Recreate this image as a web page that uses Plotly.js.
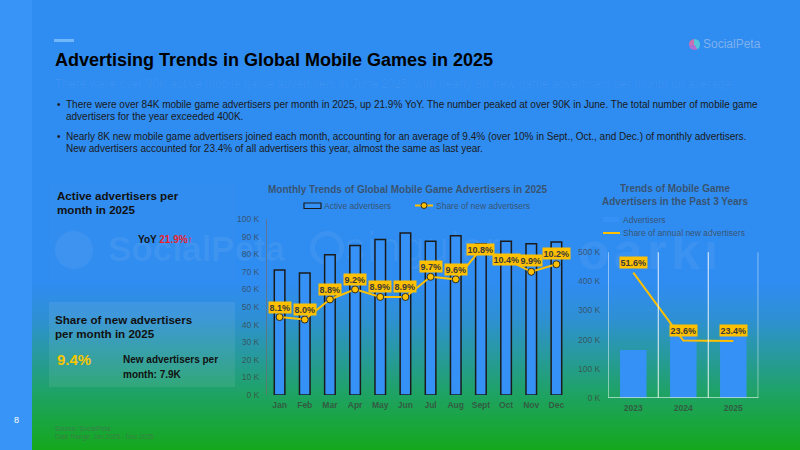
<!DOCTYPE html>
<html>
<head>
<meta charset="utf-8">
<script src="https://cdn.plot.ly/plotly-3.0.1.min.js"></script>
<style>
  html, body { margin: 0; padding: 0; }
  body { width: 800px; height: 450px; overflow: hidden; font-family: "Liberation Sans", Arial, sans-serif; }
  #slide {
    position: relative; width: 800px; height: 450px; overflow: hidden;
    background: linear-gradient(to bottom, #2f8cf0 0px, #2f8cf0 285px, #2e90d4 318px,
                #2899a2 352px, #1fa266 392px, #14a81c 450px);
  }
  #strip { position: absolute; left: 0; top: 0; width: 32px; height: 450px; background: #3894f7; }
  .t { position: absolute; white-space: nowrap; }
  .box { position: absolute; }
  .wm { position: absolute; white-space: nowrap; color: rgba(255,255,255,0.06); }
  #chart { position: absolute; left: 0; top: 0; width: 800px; height: 450px; }
</style>
</head>
<body>
<div id="slide">
  <div id="strip"></div>
  <div class="t" style="left:14px;top:414px;font-size:9px;line-height:12px;color:#fff;">8</div>

  <!-- header -->
  <div class="box" style="left:54px;top:39px;width:20px;height:3px;background:rgba(140,200,255,0.7);"></div>
  <div class="t" style="left:55px;top:49px;font-size:18px;line-height:22px;font-weight:bold;color:#000;">Advertising Trends in Global Mobile Games in 2025</div>
  <div class="t" style="left:55px;top:77px;font-size:12px;line-height:14px;color:rgba(255,255,255,0.06);">There were over 90K active mobile game advertisers in June 2025, with nearly 8K new game advertisers per month on average.</div>

  <div class="box" style="left:689px;top:39px;width:11px;height:11px;border-radius:50%;background:conic-gradient(#5fd3d6 0deg 150deg,#c86ad0 150deg 260deg,#f06aa0 260deg 360deg);opacity:0.8;"></div>
  <div class="t" style="left:703px;top:37px;font-size:12px;line-height:14px;color:rgba(225,225,235,0.45);">SocialPeta</div>

  <!-- bullets -->
  <div class="t" style="left:57px;top:99px;font-size:10px;line-height:12px;color:#1a1a1a;">&#8226;</div>
  <div class="t" style="left:66px;top:99px;font-size:10px;line-height:12px;color:#1a1a1a;">There were over 84K mobile game advertisers per month in 2025, up 21.9% YoY. The number peaked at over 90K in June. The total number of mobile game<br>advertisers for the year exceeded 400K.</div>
  <div class="t" style="left:57px;top:131px;font-size:10px;line-height:12px;color:#1a1a1a;">&#8226;</div>
  <div class="t" style="left:66px;top:131px;font-size:10px;line-height:12px;color:#1a1a1a;">Nearly 8K new mobile game advertisers joined each month, accounting for an average of 9.4% (over 10% in Sept., Oct., and Dec.) of monthly advertisers.<br>New advertisers accounted for 23.4% of all advertisers this year, almost the same as last year.</div>

  <!-- background logos -->
  <div class="box" style="left:55px;top:231px;width:38px;height:38px;border-radius:50%;background:rgba(255,255,255,0.06);"></div>
  <div class="wm" style="left:108px;top:229px;font-size:35px;line-height:40px;font-weight:bold;">SocialPeta</div>
  <div class="box" style="left:310px;top:231px;width:24px;height:24px;border-radius:50%;border:5px solid rgba(255,255,255,0.06);"></div>
  <div class="wm" style="left:345px;top:224px;font-size:40px;line-height:46px;letter-spacing:2px;">singular</div>
  <div class="wm" style="left:578px;top:222px;font-size:52px;line-height:58px;font-weight:bold;letter-spacing:4px;">oarki</div>

  <!-- KPI panels -->
  <div class="box" style="left:50px;top:183px;width:185px;height:97px;background:rgba(255,255,255,0.015);"></div>
  <div class="t" style="left:57px;top:189px;font-size:11.6px;line-height:14px;font-weight:bold;color:#111;">Active advertisers per<br>month in 2025</div>
  <div class="t" style="left:138px;top:234px;font-size:10px;line-height:12px;font-weight:bold;color:#111;">YoY <span style="color:#ea1f2a;">21.9%&#8593;</span></div>

  <div class="box" style="left:49px;top:302px;width:186px;height:85px;background:rgba(255,255,255,0.08);"></div>
  <div class="t" style="left:55px;top:313px;font-size:11.6px;line-height:14px;font-weight:bold;color:#111;">Share of new advertisers<br>per month in 2025</div>
  <div class="t" style="left:57px;top:351px;font-size:15px;line-height:18px;font-weight:bold;color:#f7c600;">9.4%</div>
  <div class="t" style="left:123px;top:352px;font-size:10px;line-height:15px;font-weight:bold;color:#111;">New advertisers per<br>month: 7.9K</div>

  <div class="t" style="left:55px;top:425px;font-size:6.5px;line-height:8.4px;color:rgba(90,90,90,0.55);">Source: SocialPeta<br>Date Range: Jan 2025 - Dec 2025</div>

  <div id="chart"></div>
</div>

<script>
// Monthly series, 2025
const months = ['Jan', 'Feb', 'Mar', 'Apr', 'May', 'Jun', 'Jul', 'Aug', 'Sept', 'Oct', 'Nov', 'Dec'];
const activeAdvertisers = [71000, 69300, 79700, 85000, 88400, 92000, 87300, 90500, 86000, 87300, 86000, 86900];
const newAdvertiserShare = [8.1, 8.0, 8.8, 9.2, 8.9, 8.9, 9.7, 9.6, 10.8, 10.4, 9.9, 10.2];

// Yearly series
const years = ['2023', '2024', '2025'];
const yearlyAdvertisers = [164000, 222000, 224000];
const annualNewShare = [51.6, 23.6, 23.4];

// Axis tick labels
const monthlyTickVals = [0, 10000, 20000, 30000, 40000, 50000, 60000, 70000, 80000, 90000, 100000];
const monthlyTickText = ['0 K', '10 K', '20 K', '30 K', '40 K', '50 K', '60 K', '70 K', '80 K', '90 K', '100 K'];
const yearlyTickVals = [0, 100000, 200000, 300000, 400000, 500000];
const yearlyTickText = ['0 K', '100 K', '200 K', '300 K', '400 K', '500 K'];

// Vertical offset of each monthly share label above its point (px)
const monthlyLabelLift = [10, 10, 10, 10, 10, 10, 10, 10, 0, 0, 11, 11];

const FONT = 'Liberation Sans, Arial, sans-serif';
const GREY = 'rgba(60,60,60,0.72)';
const GOLD = '#FFC000';
const BAR_BLUE = '#3591f5';

const px = x => x / 800;
const py = y => 1 - y / 450;

const traces = [
  {
    type: 'bar', x: months, y: activeAdvertisers, xaxis: 'x', yaxis: 'y',
    width: 0.42, marker: { color: BAR_BLUE, line: { color: '#1b1b1b', width: 1.5 } },
    hoverinfo: 'skip', showlegend: false
  },
  {
    type: 'scatter', mode: 'lines+markers', x: months, y: newAdvertiserShare, xaxis: 'x', yaxis: 'y2',
    line: { color: GOLD, width: 2 },
    marker: { size: 7, color: GOLD, line: { color: '#2a2a2a', width: 1 } },
    hoverinfo: 'skip', showlegend: false
  },
  {
    type: 'bar', x: years, y: yearlyAdvertisers, xaxis: 'x2', yaxis: 'y3',
    width: 0.53, marker: { color: BAR_BLUE },
    hoverinfo: 'skip', showlegend: false
  },
  {
    type: 'scatter', mode: 'lines', x: years, y: annualNewShare, xaxis: 'x2', yaxis: 'y4',
    line: { color: GOLD, width: 2 },
    hoverinfo: 'skip', showlegend: false
  }
];

const annotations = [];
const textAnn = (x, y, text, size, opts) => Object.assign({
  xref: 'paper', yref: 'paper', x: px(x), y: py(y), text: text, showarrow: false,
  xanchor: 'left', yanchor: 'middle', font: { family: FONT, size: size, color: GREY }
}, opts || {});

// Chart titles
annotations.push(textAnn(407.5, 189.5, 'Monthly Trends of Global Mobile Game Advertisers in 2025', 10,
  { xanchor: 'center', font: { family: FONT, size: 10, color: GREY, weight: 'bold' } }));
annotations.push(textAnn(675, 194.5, 'Trends of Mobile Game<br>Advertisers in the Past 3 Years', 10,
  { xanchor: 'center', font: { family: FONT, size: 10, color: GREY, weight: 'bold' } }));

// Legend texts
annotations.push(textAnn(322, 206, 'Active advertisers', 8.5));
annotations.push(textAnn(434, 206, 'Share of new advertisers', 8.5));
annotations.push(textAnn(621, 219.5, 'Advertisers', 8.5));
annotations.push(textAnn(621, 233, 'Share of annual new advertisers', 8.5));

// Share labels (x given as category index)
const labelStyle = {
  showarrow: false, xanchor: 'center', yanchor: 'middle', bgcolor: GOLD, borderpad: 0.5,
  font: { family: FONT, size: 9, color: '#3a3a3a', weight: 'bold' }
};
months.forEach((m, i) => {
  annotations.push(Object.assign({
    xref: 'x', yref: 'y2', x: i, y: newAdvertiserShare[i],
    text: newAdvertiserShare[i].toFixed(1) + '%', yshift: monthlyLabelLift[i]
  }, labelStyle));
});
years.forEach((yr, i) => {
  annotations.push(Object.assign({
    xref: 'x2', yref: 'y4', x: i, y: annualNewShare[i],
    text: annualNewShare[i].toFixed(1) + '%', yshift: 10
  }, labelStyle));
});

const shapes = [];
// Column separators and base line of the yearly chart
for (let i = 0; i <= years.length; i++) {
  shapes.push({ type: 'line', xref: 'x2', yref: 'y3 domain', x0: i - 0.5, x1: i - 0.5, y0: 0, y1: 1,
    line: { color: 'rgba(255,255,255,0.75)', width: 1.2 } });
}
shapes.push({ type: 'line', xref: 'x2 domain', yref: 'y3', x0: 0, x1: 1, y0: 0, y1: 0,
  line: { color: 'rgba(255,255,255,0.75)', width: 1.2 } });

// Legend symbols
shapes.push({ type: 'rect', xref: 'paper', yref: 'paper', x0: px(304), x1: px(321), y0: py(208.5), y1: py(203),
  fillcolor: BAR_BLUE, line: { color: '#1b1b1b', width: 1.2 } });
shapes.push({ type: 'line', xref: 'paper', yref: 'paper', x0: px(415), x1: px(433), y0: py(205.5), y1: py(205.5),
  line: { color: GOLD, width: 2 } });
shapes.push({ type: 'circle', xref: 'paper', yref: 'paper', x0: px(421), x1: px(427), y0: py(208.5), y1: py(202.5),
  fillcolor: GOLD, line: { color: '#2a2a2a', width: 1 } });
shapes.push({ type: 'rect', xref: 'paper', yref: 'paper', x0: px(603), x1: px(619), y0: py(222), y1: py(217),
  fillcolor: BAR_BLUE, line: { width: 0 } });
shapes.push({ type: 'line', xref: 'paper', yref: 'paper', x0: px(603), x1: px(620), y0: py(233), y1: py(233),
  line: { color: GOLD, width: 2 } });

const tickFont = { family: FONT, size: 8.5, color: GREY };
const catFont = { family: FONT, size: 8.5, color: GREY, weight: 'bold' };

const layout = {
  width: 800, height: 450,
  margin: { l: 0, r: 0, t: 0, b: 0 },
  paper_bgcolor: 'rgba(0,0,0,0)', plot_bgcolor: 'rgba(0,0,0,0)',
  showlegend: false,
  xaxis: {
    domain: [px(267), px(569)], anchor: 'y', type: 'category', range: [-0.5, 11.5],
    showgrid: false, zeroline: false, showline: false, ticks: '', tickfont: catFont,
    ticklabelstandoff: 3, fixedrange: true
  },
  yaxis: {
    domain: [py(395), py(219)], anchor: 'x', range: [0, 100000],
    tickvals: monthlyTickVals, ticktext: monthlyTickText, tickfont: tickFont,
    showgrid: false, zeroline: false, showline: true, linecolor: 'rgba(110,110,110,0.7)', linewidth: 1,
    ticks: '', ticklabelstandoff: 5, fixedrange: true
  },
  yaxis2: { overlaying: 'y', anchor: 'x', side: 'right', range: [5, 12], visible: false, fixedrange: true },
  xaxis2: {
    domain: [px(608.3), px(758.3)], anchor: 'y3', type: 'category', range: [-0.5, 2.5],
    showgrid: false, zeroline: false, showline: false, ticks: '', tickfont: catFont,
    ticklabelstandoff: 4, fixedrange: true
  },
  yaxis3: {
    domain: [py(397.7), py(252.3)], anchor: 'x2', range: [0, 500000],
    tickvals: yearlyTickVals, ticktext: yearlyTickText, tickfont: tickFont,
    showgrid: false, zeroline: false, showline: false, ticks: '', ticklabelstandoff: 7, fixedrange: true
  },
  yaxis4: { overlaying: 'y3', anchor: 'x2', side: 'right', range: [0, 60], visible: false, fixedrange: true },
  annotations: annotations,
  shapes: shapes
};

Plotly.newPlot('chart', traces, layout, { staticPlot: true, displayModeBar: false });
</script>
</body>
</html>
